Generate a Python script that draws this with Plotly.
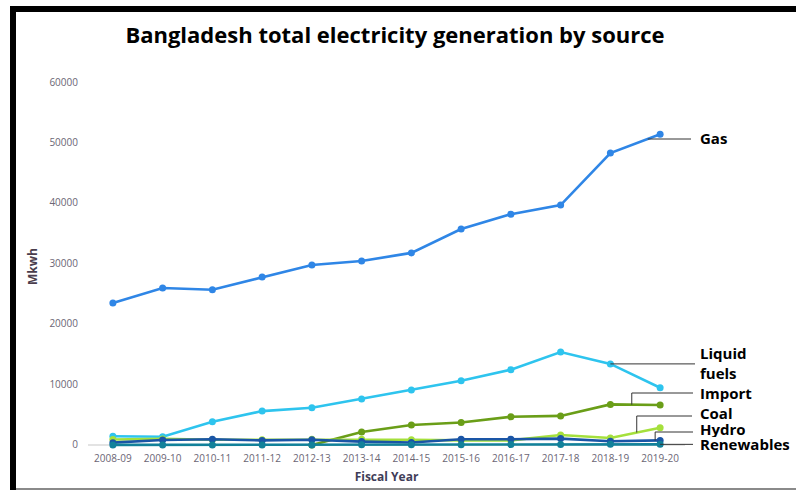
import plotly.graph_objects as go

# ---------------- data ----------------
years = ["2008-09", "2009-10", "2010-11", "2011-12", "2012-13", "2013-14",
         "2014-15", "2015-16", "2016-17", "2017-18", "2018-19", "2019-20"]
gas = [23470, 25950, 25650, 27750, 29750, 30420, 31750, 35700, 38150, 39650, 48250, 51350]
liquid_fuels = [1450, 1350, 3850, 5600, 6150, 7600, 9100, 10600, 12450, 15350, 13400, 9450]
imports = [None, None, None, None, 0, 2150, 3300, 3700, 4650, 4800, 6700, 6600]
coal = [900, 1000, 850, 850, 950, 950, 850, 750, 750, 1650, 1150, 2850]
hydro = [380, 830, 950, 750, 850, 550, 400, 950, 950, 1050, 600, 750]
renewables = [10, 10, 10, 10, 10, 20, 30, 40, 60, 90, 100, 100]
y_ticks = [0, 10000, 20000, 30000, 40000, 50000, 60000]
y_tick_text = ["0", "10000", "20000", "30000", "40000", "50000", "60000"]

series = [
    ("Gas", gas, "#2f86e6"),
    ("Liquid fuels", liquid_fuels, "#2ec4ee"),
    ("Import", imports, "#6a9e18"),
    ("Coal", coal, "#a5e03c"),
    ("Hydro", hydro, "#1a55a6"),
    ("Renewables", renewables, "#12819a"),
]

# ---------------- geometry ----------------
W, H = 796, 490
L, R, T, B = 88, 111, 82, 39
YMIN, YMAX = -1000, 60000
N = len(years)


def pxx(p):  # pixel x -> paper
    return (p - L) / (W - L - R)


def pxy(p):  # pixel y -> paper
    return (H - B - p) / (H - T - B)


def dx(i):  # category index -> paper
    return (i + 0.5) / N


def dy(v):  # value -> paper
    return (v - YMIN) / (YMAX - YMIN)


fig = go.Figure()
for name, vals, col in series:
    fig.add_trace(go.Scatter(
        x=years, y=vals, name=name, mode="lines+markers",
        line=dict(color=col, width=2.6),
        marker=dict(color=col, size=7),
        connectgaps=False, cliponaxis=False,
    ))

shapes = []
annotations = []
LEAD = dict(color="#333333", width=1)

# labels: (series name, label text, label y pixel, box height, leader definition)
# leader: (fractional index along the series, elbow y pixel or None, end x pixel)
labels = [
    ("Gas", "Gas", 138, None, (10.75, None, 691)),
    ("Liquid fuels", "Liquid<br>fuels", 363, None, (10.0, None, 695)),
    ("Import", "Import", 393, None, (10.43, 393, 693)),
    ("Coal", "Coal", 413, 16, (10.53, 416, 692)),
    ("Hydro", "Hydro", 429, 16, (10.9, 432, 693)),
    ("Renewables", "Renewables", 444, 16, (11.0, None, 693)),
]
lookup = {n: v for n, v, c in series}
for name, text, ly, bh, (fi, elbow, ex) in labels:
    vals = lookup[name]
    i0 = int(fi)
    i1 = min(i0 + 1, N - 1)
    t = fi - i0
    v = vals[i0] + (vals[i1] - vals[i0]) * t
    x0, y0 = dx(fi), dy(v)
    if elbow is None:
        path = f"M {x0} {y0} L {pxx(ex)} {y0}"
    else:
        path = f"M {x0} {y0} L {x0} {pxy(elbow)} L {pxx(ex)} {pxy(elbow)}"
    shapes.append(dict(type="path", xref="paper", yref="paper", path=path, line=LEAD))
    ann = dict(
        xref="paper", yref="paper", x=pxx(698), y=pxy(ly), text=f"<b>{text}</b>",
        showarrow=False, xanchor="left", yanchor="middle", align="left",
        font=dict(family="Open Sans", size=15, color="#000000"),
    )
    if bh:
        ann["height"] = bh
    annotations.append(ann)

# frame lines of the picture
shapes.append(dict(type="line", xref="paper", yref="paper",
                   x0=pxx(10), x1=pxx(796), y0=pxy(9), y1=pxy(9),
                   line=dict(color="#000000", width=6)))
shapes.append(dict(type="line", xref="paper", yref="paper",
                   x0=pxx(13), x1=pxx(13), y0=pxy(6), y1=pxy(490),
                   line=dict(color="#000000", width=6)))
shapes.append(dict(type="line", xref="paper", yref="paper",
                   x0=pxx(16), x1=pxx(796), y0=pxy(489), y1=pxy(489),
                   line=dict(color="#8a8a8a", width=2)))

fig.update_layout(
    width=W, height=H,
    margin=dict(l=L, r=R, t=T, b=B, autoexpand=False),
    paper_bgcolor="white", plot_bgcolor="white",
    showlegend=False,
    title=dict(text="<b>Bangladesh total electricity generation by source</b>",
               x=pxx(395), xanchor="center", xref="paper", yref="container",
               y=1 - 35 / H, yanchor="middle",
               font=dict(family="Open Sans", size=22, color="#000000")),
    shapes=shapes, annotations=annotations,
    font=dict(family="Open Sans"),
)
fig.update_xaxes(
    type="category", range=[-0.5, N - 0.5], showgrid=False, showline=False,
    zeroline=False, ticks="", automargin=False,
    tickfont=dict(family="Open Sans", size=10, color="#6b6675"),
    title=dict(text="<b>Fiscal Year</b>", standoff=8,
               font=dict(family="Open Sans", size=12, color="#3f3d58")),
)
fig.update_yaxes(
    range=[YMIN, YMAX], tickvals=y_ticks, ticktext=y_tick_text,
    showgrid=False, showline=False,
    zeroline=True, zerolinecolor="#e3e3e3", zerolinewidth=1.5,
    ticks="", automargin=False, ticklabelstandoff=9,
    tickfont=dict(family="Open Sans", size=10, color="#6b6675"),
    title=dict(text="<b>Mkwh</b>", standoff=9,
               font=dict(family="Open Sans", size=12, color="#4a3d4d")),
)

fig.write_html("out.html")
